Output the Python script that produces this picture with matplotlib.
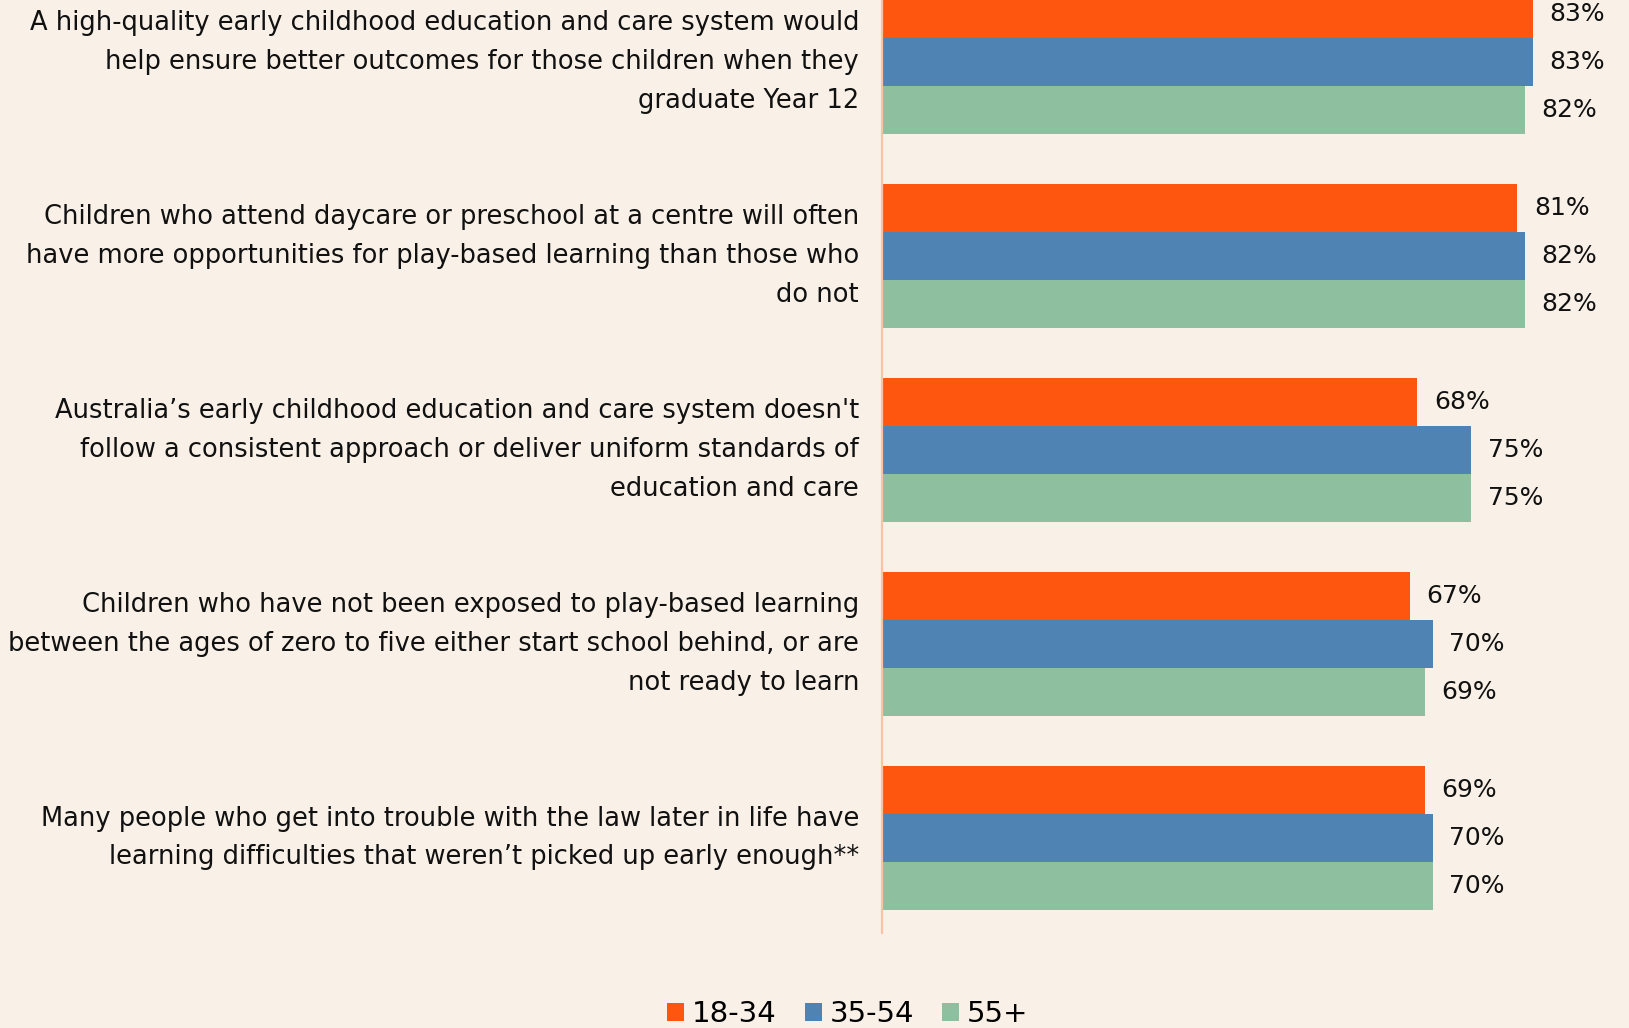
import matplotlib
matplotlib.use("Agg")
import matplotlib.pyplot as plt
from matplotlib.patches import Patch
import numpy as np

categories = [
    "A high-quality early childhood education and care system would\nhelp ensure better outcomes for those children when they\ngraduate Year 12",
    "Children who attend daycare or preschool at a centre will often\nhave more opportunities for play-based learning than those who\ndo not",
    "Australia\u2019s early childhood education and care system doesn't\nfollow a consistent approach or deliver uniform standards of\neducation and care",
    "Children who have not been exposed to play-based learning\nbetween the ages of zero to five either start school behind, or are\nnot ready to learn",
    "Many people who get into trouble with the law later in life have\nlearning difficulties that weren\u2019t picked up early enough**",
]
series_names = ["18-34", "35-54", "55+"]
age_18_34 = [83, 81, 68, 67, 69]
age_35_54 = [83, 82, 75, 70, 70]
age_55_plus = [82, 82, 75, 69, 70]
colors = ["#FE560E", "#4F83B3", "#8EBF9E"]

BG = "#F9F1E7"
FONT = "DejaVu Sans"
AXIS_MIN = -1.5

fig = plt.figure(figsize=(16.29, 10.28), dpi=100, facecolor=BG)
ax = fig.add_axes([882 / 1629, 95 / 1028, 1 - 882 / 1629, 1 - 95 / 1028])
ax.set_facecolor(BG)

y = np.arange(len(categories))
h = 0.246
all_series = [age_18_34, age_35_54, age_55_plus]
for i, (vals, c) in enumerate(zip(all_series, colors)):
    pos = y + (i - 1) * h
    vals = np.array(vals, dtype=float)
    ax.barh(pos, vals - AXIS_MIN, left=AXIS_MIN, height=h, color=c, linewidth=0)
    for p, v in zip(pos, vals):
        ax.annotate(f"{int(v)}%", xy=(v, p), xytext=(12, 0), textcoords="offset points",
                    ha="left", va="center", fontsize=18, family=FONT, color="#111111")

ax.set_xlim(AXIS_MIN, 95.5)
ax.set_ylim(4.49, -0.32)
ax.set_yticks(y)
ax.set_yticklabels(categories, ha="right", multialignment="right", linespacing=1.63,
                   fontsize=18.5, family=FONT, color="#111111")
for lab in ax.get_yticklabels():
    lab.set_verticalalignment("center")
ax.tick_params(axis="y", length=0, pad=16.5)
ax.set_xticks([])
for s in ["top", "right", "bottom"]:
    ax.spines[s].set_visible(False)
ax.spines["left"].set_color("#FBC3A5")
ax.spines["left"].set_linewidth(1.6)

handles = [Patch(facecolor=c, edgecolor="none") for c in colors]
fig.legend(handles, series_names, loc="lower center", bbox_to_anchor=(0.5205, 0.0), ncol=3,
           frameon=False, prop={"family": FONT, "size": 21}, handlelength=0.58, handleheight=0.58,
           handletextpad=0.28, columnspacing=0.95, borderpad=0, borderaxespad=0)

fig.savefig("out.png", dpi=100, facecolor=BG)
